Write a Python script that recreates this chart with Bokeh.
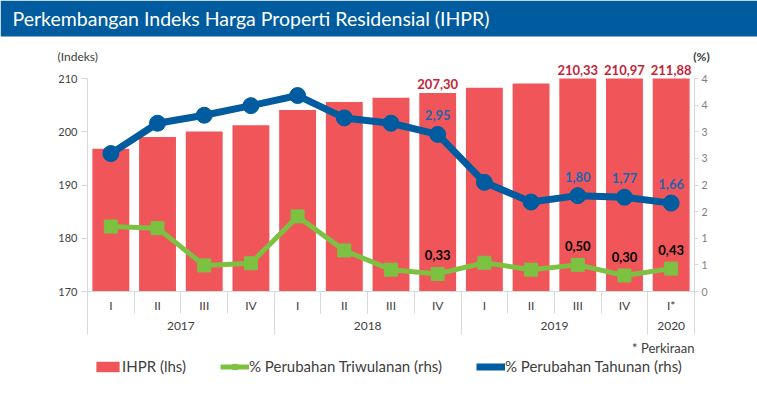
import numpy as np
from bokeh.plotting import figure
from bokeh.models import (Range1d, LinearAxis, FixedTicker, ColumnDataSource, LabelSet,
                          Label, Legend, LegendItem, BoxAnnotation)
from bokeh.core.properties import value
from bokeh.embed import file_html
from bokeh.resources import INLINE

# ---------------- data ----------------
title_text = "Perkembangan Indeks Harga Properti Residensial (IHPR)"
years = ["2017", "2017", "2017", "2017", "2018", "2018", "2018", "2018",
         "2019", "2019", "2019", "2019", "2020"]
quarters = ["I", "II", "III", "IV", "I", "II", "III", "IV", "I", "II", "III", "IV", "I*"]
ihpr = [196.8, 199.0, 200.05, 201.2, 204.1, 205.6, 206.4, 207.30,
        208.25, 209.05, 210.33, 210.97, 211.88]
qoq = [1.22, 1.19, 0.49, 0.53, 1.41, 0.77, 0.41, 0.33, 0.54, 0.41, 0.50, 0.30, 0.43]
yoy = [2.59, 3.16, 3.31, 3.49, 3.68, 3.26, 3.16, 2.95, 2.05, 1.68, 1.80, 1.77, 1.66]
labelled_idx = [7, 10, 11, 12]
left_ticks = [170, 180, 190, 200, 210]
right_ticks = [0, 0.5, 1, 1.5, 2, 2.5, 3, 3.5, 4]
right_tick_labels = ["0", "1", "1", "2", "2", "3", "3", "4", "4"]
legend_labels = ["IHPR (lhs)", "% Perubahan Triwulanan (rhs)", "% Perubahan Tahunan (rhs)"]
note_text = "* Perkiraan"
left_unit = "(Indeks)"
right_unit = "(%)"

# ---------------- style / layout ----------------
FONT = "Lato"
RED = "#F0555A"
RED_TXT = "#C52438"
GREEN = "#7CC142"
BLUE = "#005C9F"
BLUE_TXT = "#1F64AD"
BANNER = "#005B9F"
GRID = "#D9D9D9"
TXT = "#404040"
W, H = 757, 407
FL, FR, FT, FB = 87, 694, 78, 291     # plot area (pixels)

n = len(quarters)
ymin, ymax = left_ticks[0], left_ticks[-1]
pmin, pmax = right_ticks[0], right_ticks[-1]

# pixel <-> data helpers (the whole canvas is the frame)
kx = (FR - FL) / n
ky = (FB - FT) / (ymax - ymin)
kp = (FB - FT) / (pmax - pmin)
x_start, x_end = -FL / kx, n + (W - FR) / kx
y_top, y_bot = ymax + FT / ky, ymin - (H - FB) / ky
p_top, p_bot = pmax + FT / kp, pmin - (H - FB) / kp

def dx(px):
    return x_start + px / kx

def dy(py):
    return y_top - py / ky

x = [float(i) + 0.5 for i in range(n)]          # category centres
bounds = [float(i) for i in range(n + 1)]        # category boundaries
year_names = list(dict.fromkeys(years))
year_first = [years.index(y) for y in year_names]
year_last = [n - 1 - years[::-1].index(y) for y in year_names]
year_centers = [(a + b + 1) / 2.0 for a, b in zip(year_first, year_last)]
year_bounds = [float(a) for a in year_first] + [float(n)]

p = figure(width=W, height=H,
           x_range=Range1d(x_start, x_end), y_range=Range1d(y_bot, y_top),
           x_axis_location=None, y_axis_location="left",
           output_backend="svg", toolbar_location=None, min_border=0)
p.extra_y_ranges = {"pct": Range1d(p_bot, p_top)}
p.grid.visible = False
p.outline_line_color = None
p.background_fill_color = "white"
p.border_fill_color = "white"

# banner
p.add_layout(BoxAnnotation(bottom=dy(36), fill_color=BANNER, fill_alpha=1,
                           line_color=None, level="underlay"))
p.add_layout(Label(x=dx(12), y=dy(18), text=title_text, text_align="left",
                   text_baseline="middle", text_font=FONT, text_font_size="19.5px",
                   text_color="white"))

# left axis
ya = p.yaxis[0]
ya.fixed_location = 0
ya.bounds = (ymin, ymax)
ya.ticker = FixedTicker(ticks=left_ticks, minor_ticks=[])
ya.axis_line_color = GRID
ya.major_tick_line_color = GRID
ya.major_tick_out = 6
ya.major_tick_in = 0
ya.minor_tick_line_color = None
ya.major_label_text_font = FONT
ya.major_label_text_font_size = "11px"
ya.major_label_text_color = TXT
ya.major_label_standoff = 4

# right axis
ra = LinearAxis(y_range_name="pct", fixed_location=n, bounds=(pmin, pmax),
                ticker=FixedTicker(ticks=right_ticks, minor_ticks=[]),
                major_label_overrides={float(t): l for t, l in zip(right_ticks, right_tick_labels)})
ra.axis_line_color = GRID
ra.major_tick_line_color = GRID
ra.major_tick_out = 4
ra.major_tick_in = 0
ra.minor_tick_line_color = None
ra.major_label_text_font = FONT
ra.major_label_text_font_size = "10.5px"
ra.major_label_text_color = "#808080"
ra.major_label_standoff = 3
p.add_layout(ra, "right")

# quarter axis: labels at centres, short separators (minor ticks) at boundaries
qa = LinearAxis(fixed_location=ymin, bounds=(0, n),
                ticker=FixedTicker(ticks=x, minor_ticks=bounds),
                major_label_overrides={c: q for c, q in zip(x, quarters)})
qa.axis_line_color = GRID
qa.major_tick_line_color = None
qa.major_tick_out = 0
qa.major_tick_in = 0
qa.minor_tick_line_color = GRID
qa.minor_tick_in = -22
qa.minor_tick_out = 0
qa.major_label_text_font = FONT
qa.major_label_text_font_size = "12px"
qa.major_label_text_color = TXT
qa.major_label_standoff = 6
p.add_layout(qa, "below")

# year axis: labels at year centres, separators continued at year boundaries
ya2 = LinearAxis(fixed_location=dy(FB + 21), bounds=(0, n),
                 ticker=FixedTicker(ticks=year_centers, minor_ticks=year_bounds),
                 major_label_overrides={c: y for c, y in zip(year_centers, year_names)})
ya2.axis_line_color = None
ya2.major_tick_line_color = None
ya2.major_tick_out = 0
ya2.major_tick_in = 0
ya2.minor_tick_line_color = GRID
ya2.minor_tick_in = -22
ya2.minor_tick_out = 0
ya2.major_label_text_font = FONT
ya2.major_label_text_font_size = "12px"
ya2.major_label_text_color = TXT
ya2.major_label_standoff = 9
p.add_layout(ya2, "below")

# ---------------- glyphs ----------------
bars = p.vbar(x=x, top=np.minimum(ihpr, ymax), bottom=ymin, width=0.79,
              fill_color=RED, line_color=None)
gl = p.line(x=x, y=qoq, y_range_name="pct", line_width=5, line_color=GREEN)
gm = p.scatter(x=x, y=qoq, y_range_name="pct", marker="square", size=13,
               fill_color=GREEN, line_color=GREEN)
bl = p.line(x=x, y=yoy, y_range_name="pct", line_width=7, line_color=BLUE)
bm = p.scatter(x=x, y=yoy, y_range_name="pct", marker="circle", size=16,
               fill_color=BLUE, line_color=BLUE)

def fmt(v):
    return f"{v:.2f}".replace(".", ",")

lx = [x[i] for i in labelled_idx]
src_red = ColumnDataSource(dict(x=lx, y=[min(ihpr[i], ymax) for i in labelled_idx],
                                t=[fmt(ihpr[i]) for i in labelled_idx]))
src_blue = ColumnDataSource(dict(x=lx, y=[yoy[i] for i in labelled_idx],
                                 t=[fmt(yoy[i]) for i in labelled_idx]))
src_green = ColumnDataSource(dict(x=lx, y=[qoq[i] for i in labelled_idx],
                                  t=[fmt(qoq[i]) for i in labelled_idx]))
common = dict(x="x", y="y", text="t", text_align="center",
              text_baseline="middle", text_font=value(FONT), text_font_size="13px",
              text_font_style="bold")
p.add_layout(LabelSet(source=src_red, y_offset=9, text_color=RED_TXT, **common))
p.add_layout(LabelSet(source=src_blue, y_range_name="pct", y_offset=19,
                      text_color=BLUE_TXT, **common))
p.add_layout(LabelSet(source=src_green, y_range_name="pct", y_offset=19,
                      text_color="black", **common))

p.add_layout(Label(x=dx(57), y=dy(56), text=left_unit, text_align="left",
                   text_baseline="middle", text_font=FONT, text_font_size="12px",
                   text_color=TXT))
p.add_layout(Label(x=dx(701), y=dy(56), text=right_unit, text_align="center",
                   text_baseline="middle", text_font=FONT, text_font_size="12px",
                   text_font_style="bold", text_color=TXT))
p.add_layout(Label(x=dx(FR), y=dy(347), text=note_text, text_align="right",
                   text_baseline="middle", text_font=FONT, text_font_size="13px",
                   text_color=TXT))

legend = Legend(items=[LegendItem(label=legend_labels[0], renderers=[bars]),
                       LegendItem(label=legend_labels[1], renderers=[gl, gm]),
                       LegendItem(label=legend_labels[2], renderers=[bl, bm])],
                orientation="horizontal", location=(93, H - 381 + 6),
                glyph_width=29, glyph_height=13, label_standoff=0, spacing=34,
                padding=3, margin=0, border_line_color=None, background_fill_alpha=0,
                label_text_font=FONT, label_text_font_size="15px", label_text_color=TXT)
p.add_layout(legend)

open("out.html", "w").write(file_html(p, INLINE))
